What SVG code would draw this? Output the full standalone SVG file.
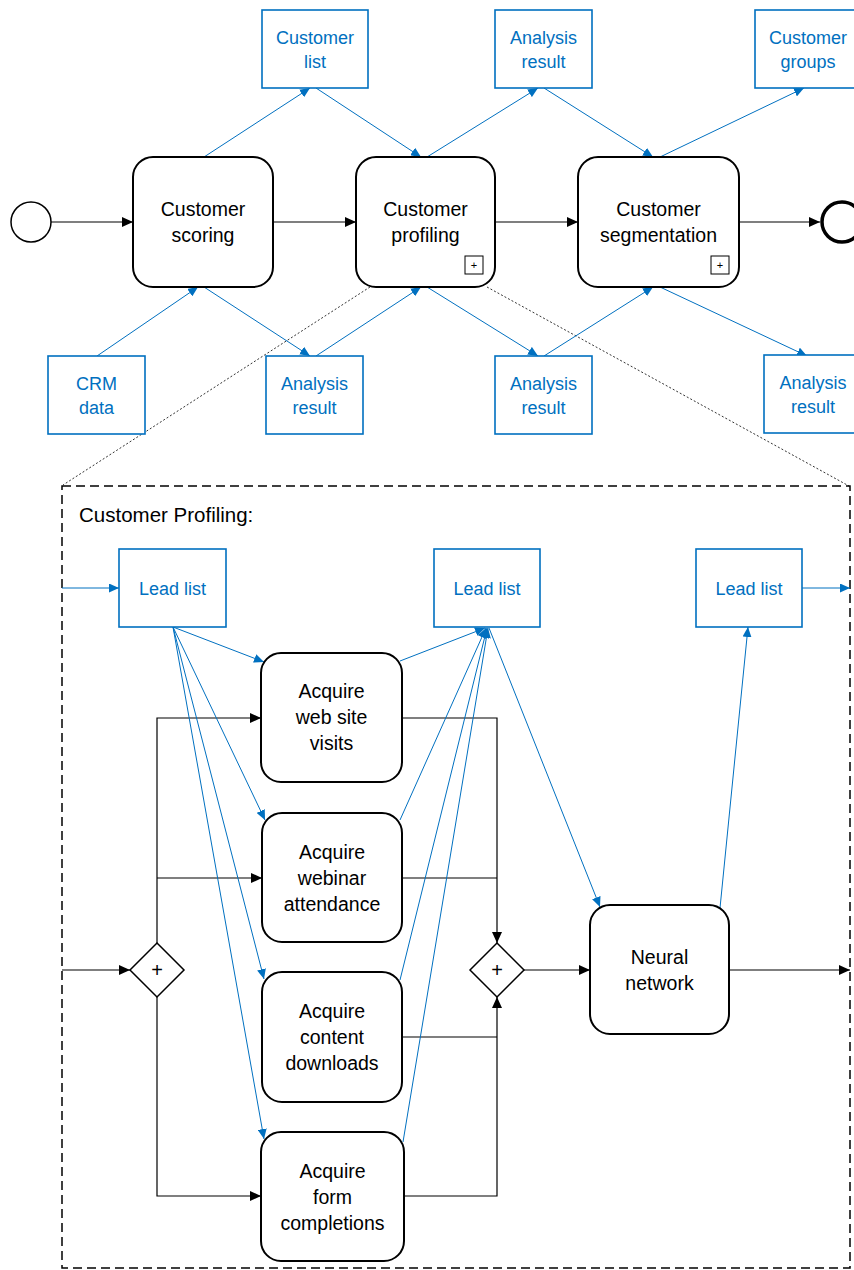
<svg xmlns="http://www.w3.org/2000/svg" width="854" height="1270" viewBox="0 0 854 1270">
<defs>
<style>
.task{fill:#fff;stroke:#000;stroke-width:2}
.data{fill:#fff;stroke:#0070c0;stroke-width:1.6}
.tt{font-family:"Liberation Sans",Arial,sans-serif;font-size:19.5px;fill:#000;text-anchor:middle}
.dt{font-family:"Liberation Sans",Arial,sans-serif;font-size:18px;fill:#0070c0;text-anchor:middle}
.seq{fill:none;stroke:#000;stroke-width:1.2}
.assoc{fill:none;stroke:#0070c0;stroke-width:1}
.dot{fill:none;stroke:#000;stroke-width:0.8;stroke-dasharray:2 2}
</style>
<marker id="ab" markerUnits="userSpaceOnUse" markerWidth="11" markerHeight="10" refX="11" refY="5" orient="auto"><path d="M0,0 L11,5 L0,10 z" fill="#000"/></marker>
<marker id="au" markerUnits="userSpaceOnUse" markerWidth="10" markerHeight="9" refX="10" refY="4.5" orient="auto"><path d="M0,0 L10,4.5 L0,9 z" fill="#0070c0"/></marker>
</defs>
<rect width="854" height="1270" fill="#fff"/>

<g id="expansion">
<line class="dot" x1="370" y1="287" x2="63" y2="485"/>
<line class="dot" x1="487" y1="287" x2="849" y2="486"/>
<rect x="62" y="486" width="788" height="782" fill="none" stroke="#000" stroke-width="1.5" stroke-dasharray="9 5"/>
<text x="79" y="522" font-family="Liberation Sans, Arial, sans-serif" font-size="20.5" fill="#000">Customer Profiling:</text>
</g>

<g id="connectors">
<!-- top sequence flows -->
<line class="seq" x1="51" y1="222" x2="133" y2="222" marker-end="url(#ab)"/>
<line class="seq" x1="273" y1="222" x2="356" y2="222" marker-end="url(#ab)"/>
<line class="seq" x1="495" y1="222" x2="578" y2="222" marker-end="url(#ab)"/>
<line class="seq" x1="739" y1="222" x2="820" y2="222" marker-end="url(#ab)"/>
<!-- top associations -->
<line class="assoc" x1="204" y1="157" x2="310" y2="88" marker-end="url(#au)"/>
<line class="assoc" x1="316" y1="88" x2="421" y2="157" marker-end="url(#au)"/>
<line class="assoc" x1="427" y1="157" x2="538" y2="88" marker-end="url(#au)"/>
<line class="assoc" x1="544" y1="88" x2="653" y2="157" marker-end="url(#au)"/>
<line class="assoc" x1="660" y1="157" x2="804" y2="88" marker-end="url(#au)"/>
<line class="assoc" x1="97" y1="356" x2="198" y2="287" marker-end="url(#au)"/>
<line class="assoc" x1="204" y1="287" x2="310" y2="356" marker-end="url(#au)"/>
<line class="assoc" x1="316" y1="356" x2="421" y2="287" marker-end="url(#au)"/>
<line class="assoc" x1="427" y1="287" x2="538" y2="356" marker-end="url(#au)"/>
<line class="assoc" x1="544" y1="356" x2="653" y2="287" marker-end="url(#au)"/>
<line class="assoc" x1="660" y1="287" x2="807" y2="356" marker-end="url(#au)"/>
<!-- lower sequence flows -->
<line class="seq" x1="62" y1="970" x2="130" y2="970" marker-end="url(#ab)"/>
<polyline class="seq" points="157,943 157,718 261,718" marker-end="url(#ab)"/>
<line class="seq" x1="157" y1="878" x2="262" y2="878" marker-end="url(#ab)"/>
<polyline class="seq" points="157,997 157,1196 261,1196" marker-end="url(#ab)"/>
<polyline class="seq" points="402,718 497,718 497,943" marker-end="url(#ab)"/>
<line class="seq" x1="402" y1="878" x2="497" y2="878"/>
<line class="seq" x1="402" y1="1037" x2="497" y2="1037"/>
<polyline class="seq" points="404,1196 497,1196 497,997" marker-end="url(#ab)"/>
<line class="seq" x1="524" y1="970" x2="590" y2="970" marker-end="url(#ab)"/>
<line class="seq" x1="729" y1="970" x2="850" y2="970" marker-end="url(#ab)"/>
<!-- lower associations -->
<line class="assoc" x1="62" y1="588" x2="119" y2="588" marker-end="url(#au)"/>
<line class="assoc" x1="802" y1="588" x2="850" y2="588" marker-end="url(#au)"/>
<line class="assoc" x1="173" y1="627" x2="264" y2="662" marker-end="url(#au)"/>
<line class="assoc" x1="173" y1="627" x2="265" y2="820" marker-end="url(#au)"/>
<line class="assoc" x1="173" y1="627" x2="264" y2="979" marker-end="url(#au)"/>
<line class="assoc" x1="173" y1="627" x2="264" y2="1139" marker-end="url(#au)"/>
<line class="assoc" x1="400" y1="661" x2="485" y2="628" marker-end="url(#au)"/>
<line class="assoc" x1="400" y1="820" x2="486" y2="628" marker-end="url(#au)"/>
<line class="assoc" x1="400" y1="980" x2="487" y2="628" marker-end="url(#au)"/>
<line class="assoc" x1="403" y1="1142" x2="488" y2="628" marker-end="url(#au)"/>
<line class="assoc" x1="489" y1="628" x2="600" y2="907" marker-end="url(#au)"/>
<line class="assoc" x1="720" y1="908" x2="748" y2="627" marker-end="url(#au)"/>
</g>

<g id="start"><circle cx="31" cy="222" r="20" fill="#fff" stroke="#000" stroke-width="1.5"/></g>
<g id="end"><circle cx="842" cy="222" r="20" fill="#fff" stroke="#000" stroke-width="3.5"/></g>

<g id="customer-scoring">
<rect class="task" x="133" y="157" width="140" height="130" rx="20"/>
<text class="tt" x="203" y="216">Customer</text>
<text class="tt" x="203" y="242">scoring</text>
</g>
<g id="customer-profiling">
<rect class="task" x="356" y="157" width="139" height="130" rx="20"/>
<text class="tt" x="425.5" y="216">Customer</text>
<text class="tt" x="425.5" y="242">profiling</text>
<rect x="465" y="256" width="18" height="18" fill="#fff" stroke="#000" stroke-width="1"/>
<text x="474" y="269" font-family="Liberation Sans, Arial, sans-serif" font-size="11" text-anchor="middle">+</text>
</g>
<g id="customer-segmentation">
<rect class="task" x="578" y="157" width="161" height="130" rx="20"/>
<text class="tt" x="658.5" y="216">Customer</text>
<text class="tt" x="658.5" y="242">segmentation</text>
<rect x="711" y="256" width="18" height="18" fill="#fff" stroke="#000" stroke-width="1"/>
<text x="720" y="269" font-family="Liberation Sans, Arial, sans-serif" font-size="11" text-anchor="middle">+</text>
</g>

<g id="data-customer-list">
<rect class="data" x="262" y="10" width="106" height="78"/>
<text class="dt" x="315" y="44">Customer</text>
<text class="dt" x="315" y="68">list</text>
</g>
<g id="data-analysis-result-top">
<rect class="data" x="495" y="10" width="97" height="78"/>
<text class="dt" x="543.5" y="44">Analysis</text>
<text class="dt" x="543.5" y="68">result</text>
</g>
<g id="data-customer-groups">
<rect class="data" x="755" y="10" width="106" height="78"/>
<text class="dt" x="808" y="44">Customer</text>
<text class="dt" x="808" y="68">groups</text>
</g>
<g id="data-crm">
<rect class="data" x="48" y="356" width="97" height="78"/>
<text class="dt" x="96.5" y="390">CRM</text>
<text class="dt" x="96.5" y="414">data</text>
</g>
<g id="data-analysis-result-1">
<rect class="data" x="266" y="356" width="97" height="78"/>
<text class="dt" x="314.5" y="390">Analysis</text>
<text class="dt" x="314.5" y="414">result</text>
</g>
<g id="data-analysis-result-2">
<rect class="data" x="495" y="356" width="97" height="78"/>
<text class="dt" x="543.5" y="390">Analysis</text>
<text class="dt" x="543.5" y="414">result</text>
</g>
<g id="data-analysis-result-3">
<rect class="data" x="764" y="355" width="98" height="78"/>
<text class="dt" x="813" y="389">Analysis</text>
<text class="dt" x="813" y="413">result</text>
</g>

<g id="lead-list-1">
<rect class="data" x="119" y="549" width="107" height="78"/>
<text class="dt" x="172.5" y="595">Lead list</text>
</g>
<g id="lead-list-2">
<rect class="data" x="434" y="549" width="106" height="78"/>
<text class="dt" x="487" y="595">Lead list</text>
</g>
<g id="lead-list-3">
<rect class="data" x="696" y="549" width="106" height="78"/>
<text class="dt" x="749" y="595">Lead list</text>
</g>

<g id="split-gateway">
<polygon points="157,943 184,970 157,997 130,970" fill="#fff" stroke="#000" stroke-width="1.5"/>
<text x="157" y="977" font-family="Liberation Sans, Arial, sans-serif" font-size="20" text-anchor="middle">+</text>
</g>
<g id="join-gateway">
<polygon points="497,943 524,970 497,997 470,970" fill="#fff" stroke="#000" stroke-width="1.5"/>
<text x="497" y="977" font-family="Liberation Sans, Arial, sans-serif" font-size="20" text-anchor="middle">+</text>
</g>

<g id="acquire-web-site-visits">
<rect class="task" x="261" y="653" width="141" height="129" rx="20"/>
<text class="tt" x="331.5" y="698">Acquire</text>
<text class="tt" x="331.5" y="724">web site</text>
<text class="tt" x="331.5" y="750">visits</text>
</g>
<g id="acquire-webinar-attendance">
<rect class="task" x="262" y="813" width="140" height="129" rx="20"/>
<text class="tt" x="332" y="859">Acquire</text>
<text class="tt" x="332" y="885">webinar</text>
<text class="tt" x="332" y="911">attendance</text>
</g>
<g id="acquire-content-downloads">
<rect class="task" x="262" y="972" width="140" height="130" rx="20"/>
<text class="tt" x="332" y="1018">Acquire</text>
<text class="tt" x="332" y="1044">content</text>
<text class="tt" x="332" y="1070">downloads</text>
</g>
<g id="acquire-form-completions">
<rect class="task" x="261" y="1132" width="143" height="129" rx="20"/>
<text class="tt" x="332.5" y="1178">Acquire</text>
<text class="tt" x="332.5" y="1204">form</text>
<text class="tt" x="332.5" y="1230">completions</text>
</g>
<g id="neural-network">
<rect class="task" x="590" y="905" width="139" height="129" rx="20"/>
<text class="tt" x="659.5" y="964">Neural</text>
<text class="tt" x="659.5" y="990">network</text>
</g>
</svg>
